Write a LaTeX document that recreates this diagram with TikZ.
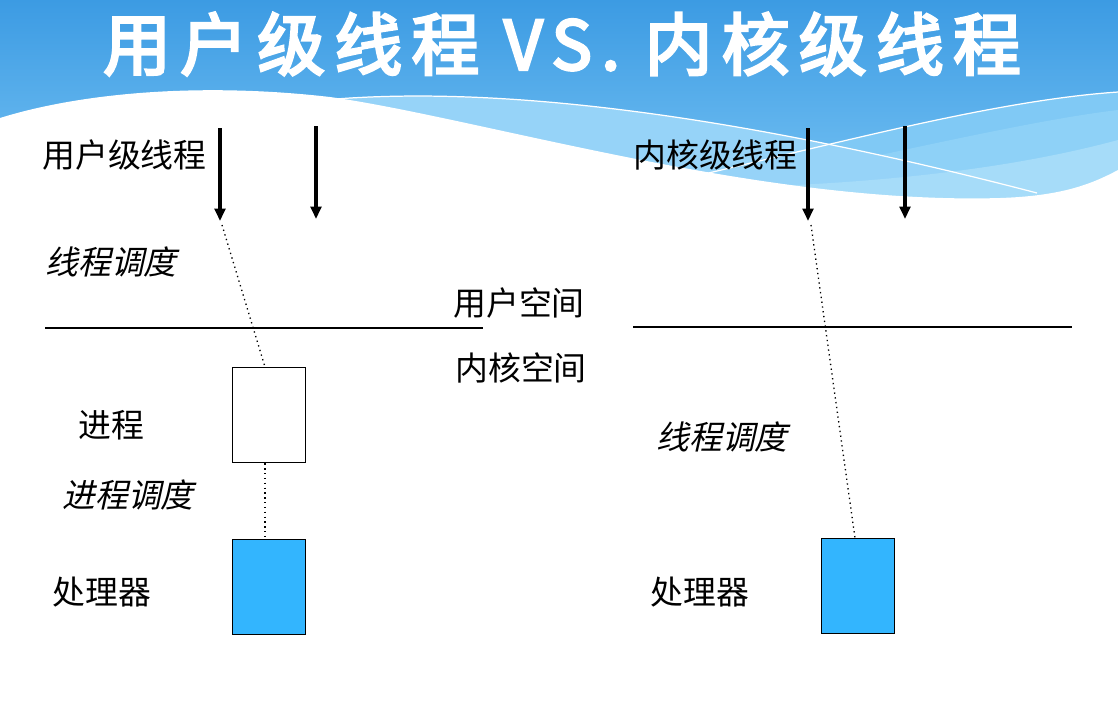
\documentclass[tikz,border=0pt]{standalone}
\usepackage{fontspec}
\usetikzlibrary{arrows.meta}
\newfontfamily\cjk{Noto Sans CJK SC}
\newfontfamily\cjkit{Noto Sans CJK SC}[FakeSlant=0.22]
\newfontfamily\cjktitle{Noto Sans CJK SC}[FakeBold=4,LetterSpace=14]
\definecolor{hdrtop}{HTML}{3C9BE3}
\definecolor{hdrbot}{HTML}{78C4F4}
\definecolor{bandA}{HTML}{96D3F8}
\definecolor{bandB}{HTML}{80C9F5}
\definecolor{bandC}{HTML}{8ED1F7}
\definecolor{bandD}{HTML}{A6DCF9}
\definecolor{cpu}{HTML}{33B5FE}
\tikzset{
  lbl/.style={anchor=west,inner sep=0pt,font=\cjk\fontsize{18.7pt}{22pt}\selectfont},
  ilbl/.style={anchor=west,inner sep=0pt,font=\cjkit\fontsize{18.7pt}{22pt}\selectfont},
  thr/.style={line width=1.8pt,-{Triangle[length=7pt,width=6pt]}},
  sep/.style={line width=0.9pt},
  link/.style={dotted,line width=0.75pt},
  boxw/.style={draw,line width=0.8pt,fill=white,minimum width=73*0.02cm,minimum height=95*0.02cm,inner sep=0pt,anchor=north west},
  boxc/.style={boxw,fill=cpu},
  wline/.style={white,line width=0.7pt}
}
\begin{document}
\begin{tikzpicture}[x=0.02cm,y=-0.02cm]
\useasboundingbox (0,0) rectangle (1118,701);
\fill[white] (0,0) rectangle (1118,701);
% header background
\shade[top color=hdrtop,bottom color=hdrbot] (0,0) rectangle (1118,212);
\fill[bandB] (700,175) .. controls (850,140) and (1000,100) .. (1118,92) -- (1118,212) -- (700,212) -- cycle;
\fill[bandC] (820,168) .. controls (950,140) and (1050,118) .. (1118,110) -- (1118,212) -- (820,212) -- cycle;
\fill[bandA] (330,99) .. controls (480,88) and (700,105) .. (1037,193) -- (1037,212) -- (330,212) -- cycle;
\fill[bandD] (700,188) .. controls (850,186) and (1000,172) .. (1118,140) -- (1118,212) -- (700,212) -- cycle;
% white wave
\fill[white] (0,118) .. controls (80,93) and (200,82) .. (330,97)
  .. controls (480,118) and (760,205) .. (1000,198)
  .. controls (1060,196) and (1090,185) .. (1118,170) -- (1118,701) -- (0,701) -- cycle;
\draw[wline] (336,99) .. controls (480,88) and (700,105) .. (1037,193);
\draw[wline] (700,175) .. controls (850,140) and (1000,100) .. (1118,92);
% title
\node[text=white,inner sep=0pt,font=\cjktitle\fontsize{38.5pt}{44pt}\selectfont] (title) at (562,44) {用户级线程 VS. 内核级线程};

% left side: user-level threads
\node[lbl] (ult) at (42,155) {用户级线程};
\coordinate (a1s) at (220,128); \coordinate (a1e) at (220,221);
\coordinate (a2s) at (316,126); \coordinate (a2e) at (316,219);
\draw[thr] (a1s) -- (a1e);
\draw[thr] (a2s) -- (a2e);
\node[ilbl] (tsl) at (45,262) {线程调度};
\coordinate (sepl1) at (45,328); \coordinate (sepl2) at (483,328);
\draw[sep] (sepl1) -- (sepl2);
\node[boxw] (proc) at (232,367) {};
\node[lbl] (procl) at (78,425) {进程};
\node[ilbl] (psl) at (62,495) {进程调度};
\node[boxc] (cpul) at (232,539) {};
\node[lbl] (cpull) at (52,592) {处理器};
\coordinate (d1) at (222,225);
\draw[link] (d1) -- (proc.north -| 265,0);
\draw[link] (proc.south -| 265,0) -- (cpul.north -| 265,0);

% middle labels
\node[lbl] (us) at (453,303) {用户空间};
\node[lbl] (ks) at (455,368) {内核空间};

% right side: kernel-level threads
\node[lbl] (klt) at (633,155) {内核级线程};
\coordinate (a3s) at (808,128); \coordinate (a3e) at (808,221);
\coordinate (a4s) at (905,126); \coordinate (a4e) at (905,219);
\draw[thr] (a3s) -- (a3e);
\draw[thr] (a4s) -- (a4e);
\coordinate (sepr1) at (633,327); \coordinate (sepr2) at (1072,327);
\draw[sep] (sepr1) -- (sepr2);
\node[ilbl] (tsr) at (656,437) {线程调度};
\node[boxc] (cpur) at (821,538) {};
\node[lbl] (cpurl) at (650,592) {处理器};
\coordinate (d2) at (811,225);
\draw[link] (d2) -- (cpur.north -| 855,0);
\end{tikzpicture}
\end{document}
